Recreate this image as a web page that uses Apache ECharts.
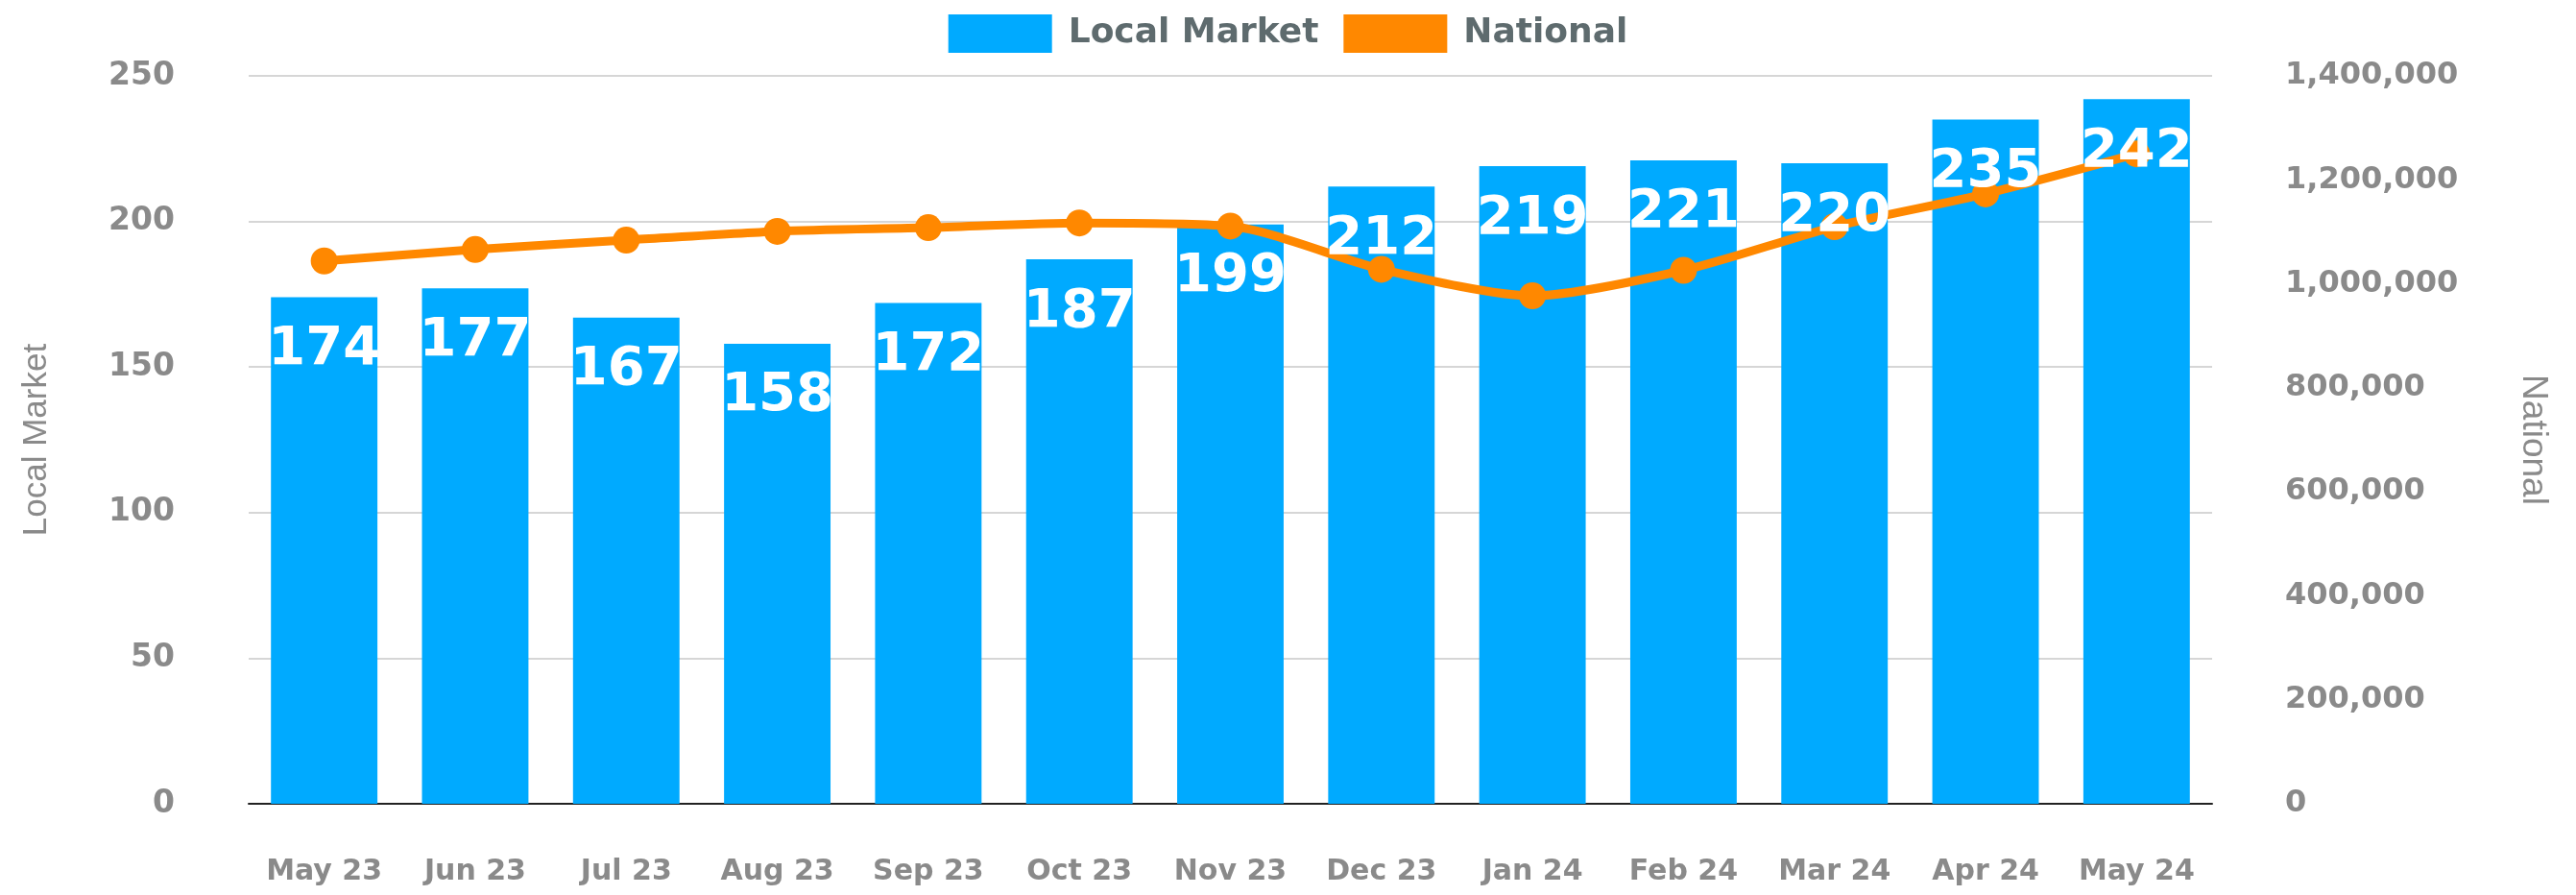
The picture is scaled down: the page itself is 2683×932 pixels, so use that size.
<!DOCTYPE html>
<html>
<head>
<meta charset="utf-8">
<script src="https://cdn.jsdelivr.net/npm/echarts@6/dist/echarts.min.js"></script>
<style>
  html, body { margin: 0; padding: 0; background: #fff; }
  #chart { width: 2683px; height: 932px; }
</style>
</head>
<body>
<div id="chart"></div>
<script>
// data
var months = ['May 23', 'Jun 23', 'Jul 23', 'Aug 23', 'Sep 23', 'Oct 23', 'Nov 23',
              'Dec 23', 'Jan 24', 'Feb 24', 'Mar 24', 'Apr 24', 'May 24'];
var localMarket = [174, 177, 167, 158, 172, 187, 199, 212, 219, 221, 220, 235, 242];
var national = [1044000, 1066000, 1084000, 1101000, 1108000, 1117000, 1111000,
                1028000, 977000, 1026000, 1110000, 1173000, 1250000];
var leftTicks = { min: 0, max: 250, interval: 50 };
var rightTicks = { min: 0, max: 1400000, interval: 200000 };

var blue = '#00aaff';
var orange = '#ff8800';
var tickGray = '#8a8a8a';

var myChart = echarts.init(document.getElementById('chart'));

myChart.setOption({
  animation: false,
  legend: {
    data: [
      { name: 'Local Market', icon: 'rect' },
      { name: 'National', icon: 'rect' }
    ],
    top: 10,
    left: 'center',
    itemWidth: 108,
    itemHeight: 40,
    itemGap: 26,
    textStyle: {
      fontFamily: 'DejaVu Sans',
      fontWeight: 'bold',
      fontSize: 36,
      color: '#5e6b6e',
      padding: [0, 0, 0, 12]
    }
  },
  grid: { left: 259, right: 379, top: 79, bottom: 95 },
  xAxis: {
    type: 'category',
    data: months,
    axisLine: { lineStyle: { color: '#222', width: 2 } },
    axisTick: { show: false },
    axisLabel: {
      interval: 0,
      margin: 56,
      fontFamily: 'DejaVu Sans',
      fontWeight: 'bold',
      fontSize: 30,
      color: tickGray
    }
  },
  yAxis: [{
    type: 'value',
    name: 'Local Market',
    nameLocation: 'middle',
    nameGap: 203,
    nameTextStyle: { fontFamily: 'Liberation Sans', fontSize: 35, color: tickGray },
    min: leftTicks.min,
    max: leftTicks.max,
    interval: leftTicks.interval,
    axisLabel: {
      margin: 77,
      fontFamily: 'DejaVu Sans',
      fontWeight: 'bold',
      fontSize: 33,
      color: tickGray
    },
    splitLine: { lineStyle: { color: '#d6d6d6', width: 2 } }
  }, {
    type: 'value',
    name: 'National',
    nameLocation: 'middle',
    nameGap: 316,
    nameRotate: -90,
    nameTextStyle: { fontFamily: 'Liberation Sans', fontSize: 37, color: tickGray },
    min: rightTicks.min,
    max: rightTicks.max,
    interval: rightTicks.interval,
    axisLabel: {
      margin: 76,
      fontFamily: 'DejaVu Sans',
      fontWeight: 'bold',
      fontSize: 32,
      color: tickGray,
      formatter: function (v) { return v.toLocaleString('en-US'); }
    },
    splitLine: { show: false }
  }],
  series: [{
    name: 'Local Market',
    type: 'bar',
    data: localMarket,
    barWidth: '70.5%',
    itemStyle: { color: blue },
    z: 2
  }, {
    name: 'National',
    type: 'line',
    yAxisIndex: 1,
    data: national,
    smooth: 0.25,
    symbol: 'circle',
    symbolSize: 28,
    lineStyle: { color: orange, width: 9 },
    itemStyle: { color: orange },
    z: 3
  }, {
    // invisible twin of the bars so the value labels sit above the line
    name: 'labels',
    type: 'bar',
    data: localMarket,
    barWidth: '70.5%',
    barGap: '-100%',
    silent: true,
    itemStyle: { color: 'rgba(0,0,0,0)' },
    label: {
      show: true,
      position: 'insideTop',
      distance: 27,
      fontFamily: 'DejaVu Sans',
      fontWeight: 'bold',
      fontSize: 56,
      color: '#fff'
    },
    z: 5
  }]
});
</script>
</body>
</html>
